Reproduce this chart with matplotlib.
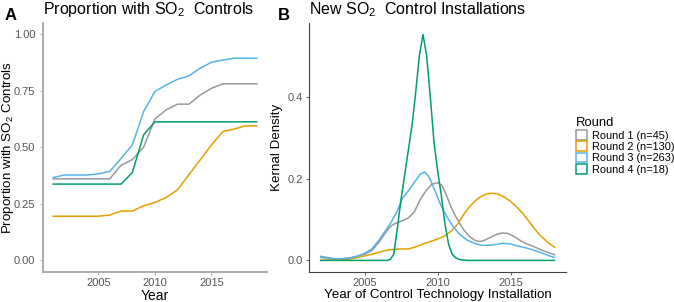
import matplotlib
matplotlib.use("Agg")
import matplotlib.pyplot as plt
from matplotlib.patches import Patch

plt.rcParams["font.family"] = ["Liberation Sans", "DejaVu Sans"]
plt.rcParams["mathtext.default"] = "regular"

# panel A: proportion of units with SO2 controls, by year
years = list(range(2001, 2020))
prop_r1 = [0.36, 0.36, 0.36, 0.36, 0.36, 0.36, 0.42, 0.445, 0.50, 0.625,
           0.665, 0.69, 0.69, 0.73, 0.76, 0.78, 0.78, 0.78, 0.78]
prop_r2 = [0.195, 0.195, 0.195, 0.195, 0.195, 0.20, 0.218, 0.218, 0.241, 0.256,
           0.278, 0.312, 0.378, 0.444, 0.51, 0.569, 0.58, 0.594, 0.594]
prop_r3 = [0.366, 0.377, 0.377, 0.377, 0.382, 0.393, 0.45, 0.51, 0.657, 0.746,
           0.775, 0.80, 0.815, 0.849, 0.875, 0.885, 0.893, 0.893, 0.893]
prop_r4 = [0.337, 0.337, 0.337, 0.337, 0.337, 0.337, 0.337, 0.388, 0.555, 0.612,
           0.612, 0.612, 0.612, 0.612, 0.612, 0.612, 0.612, 0.612, 0.612]

# panel B: kernel density of installation year
dens_r1_x = [2002, 2003, 2004, 2005, 2005.5, 2006, 2006.4, 2006.8, 2007.2, 2007.6,
             2008.0, 2008.4, 2008.8, 2009.2, 2009.6, 2010.0, 2010.3, 2010.6, 2010.9,
             2011.2, 2011.5, 2011.8, 2012.2, 2012.6, 2012.9, 2013.2, 2013.6, 2014.0,
             2014.4, 2014.8, 2015.2, 2015.6, 2016.0, 2016.5, 2017.0, 2017.5, 2018.0]
dens_r1_y = [0.007, 0.003, 0.006, 0.015, 0.024, 0.045, 0.066, 0.084, 0.092, 0.097,
             0.104, 0.118, 0.148, 0.170, 0.186, 0.190, 0.183, 0.160, 0.132,
             0.110, 0.091, 0.074, 0.058, 0.048, 0.046, 0.049, 0.056, 0.063,
             0.067, 0.066, 0.059, 0.050, 0.042, 0.035, 0.027, 0.020, 0.014]

dens_r2_x = [2002, 2003, 2004, 2004.5, 2005, 2005.5, 2006, 2006.5, 2007, 2007.5,
             2008, 2008.5, 2009, 2009.5, 2010, 2010.5, 2011, 2011.4, 2011.8, 2012.2,
             2012.6, 2013.0, 2013.4, 2013.8, 2014.2, 2014.6, 2015.0, 2015.4, 2015.8,
             2016.2, 2016.6, 2017.0, 2017.5, 2018.0]
dens_r2_y = [0.0, 0.001, 0.003, 0.007, 0.011, 0.015, 0.020, 0.025, 0.027, 0.028,
             0.028, 0.033, 0.040, 0.046, 0.052, 0.060, 0.074, 0.090, 0.113, 0.132,
             0.146, 0.157, 0.163, 0.164, 0.161, 0.154, 0.144, 0.131, 0.116,
             0.098, 0.079, 0.062, 0.045, 0.032]

dens_r3_x = [2002, 2002.5, 2003, 2003.5, 2004, 2004.5, 2005, 2005.5, 2006, 2006.4,
             2006.8, 2007.2, 2007.6, 2008.0, 2008.4, 2008.8, 2009.1, 2009.4, 2009.8,
             2010.1, 2010.4, 2010.8, 2011.1, 2011.5, 2012.0, 2012.5, 2013.0, 2013.5,
             2014.0, 2014.5, 2015.0, 2015.5, 2016.0, 2016.5, 2017.0, 2017.5, 2018.0]
dens_r3_y = [0.010, 0.007, 0.004, 0.004, 0.006, 0.010, 0.017, 0.028, 0.050, 0.071,
             0.092, 0.118, 0.152, 0.170, 0.190, 0.210, 0.216, 0.205, 0.172,
             0.145, 0.122, 0.097, 0.081, 0.064, 0.050, 0.042, 0.037, 0.037,
             0.039, 0.042, 0.040, 0.035, 0.031, 0.026, 0.020, 0.013, 0.007]

dens_r4_x = [2002, 2006.5, 2006.75, 2007.0, 2007.25, 2007.5, 2007.75, 2008.0, 2008.25,
             2008.5, 2008.75, 2009.0, 2009.25, 2009.5, 2009.75, 2010.0, 2010.25,
             2010.5, 2010.75, 2011.0, 2011.25, 2011.5, 2012.0, 2018.0]
dens_r4_y = [0.0, 0.0, 0.002, 0.015, 0.08, 0.15, 0.21, 0.27, 0.33,
             0.41, 0.50, 0.552, 0.50, 0.40, 0.29, 0.22, 0.16,
             0.09, 0.04, 0.015, 0.006, 0.002, 0.0, 0.0]

labels = ["Round 1 (n=45)", "Round 2 (n=130)", "Round 3 (n=263)", "Round 4 (n=18)"]
colors = ["#999999", "#E69F00", "#56B4E9", "#009E73"]

fig = plt.figure(figsize=(6.74, 3.02), dpi=100)
axA = fig.add_axes([0.0638, 0.1003, 0.3322, 0.8247])
axB = fig.add_axes([0.4585, 0.1003, 0.3815, 0.8237])

for ys, c in zip([prop_r1, prop_r2, prop_r3, prop_r4], colors):
    axA.plot(years, ys, color=c, lw=1.1)
axA.set_xlim(2000.1, 2019.9)
axA.set_ylim(-0.05, 1.05)
axA.set_xticks([2005, 2010, 2015])
axA.set_yticks([0, 0.25, 0.5, 0.75, 1.0])
axA.set_yticklabels(["0.00", "0.25", "0.50", "0.75", "1.00"])
axA.set_xlabel("Year", fontsize=10, labelpad=1)
axA.set_ylabel("Proportion with SO$_2$ Controls", fontsize=9.6)
axA.yaxis.set_label_coords(-0.122, 0.5)
axA.set_title("Proportion with SO$_2$  Controls", fontsize=11.5, loc="left", pad=6)

dens = [(dens_r1_x, dens_r1_y), (dens_r2_x, dens_r2_y),
        (dens_r3_x, dens_r3_y), (dens_r4_x, dens_r4_y)]
for (xs, ys), c in zip(dens, colors):
    axB.plot(xs, ys, color=c, lw=1.1)
axB.set_xlim(2001.2, 2018.8)
axB.set_ylim(-0.0276, 0.58)
axB.set_xticks([2005, 2010, 2015])
axB.set_yticks([0, 0.2, 0.4])
axB.set_yticklabels(["0.0", "0.2", "0.4"])
axB.set_xlabel("Year of Control Technology Installation", fontsize=9.6, labelpad=1)
axB.set_ylabel("Kernal Density", fontsize=9.6, labelpad=3)
axB.set_title("New SO$_2$  Control Installations", fontsize=11.5, loc="left", pad=6)

for ax, spc, slw in [(axA, "#a6a6a6", 1.3), (axB, "#444444", 0.8)]:
    ax.spines["top"].set_visible(False)
    ax.spines["right"].set_visible(False)
    for s in ["left", "bottom"]:
        ax.spines[s].set_color(spc)
        ax.spines[s].set_linewidth(slw)
    ax.tick_params(labelsize=8, colors="#555555", length=2.5, width=0.6, pad=2)
    ax.tick_params(axis="both", color=spc)
axA.tick_params(axis="y", pad=3)

fig.text(0.007, 0.925, "A", fontsize=12, fontweight="bold", va="bottom")
fig.text(0.412, 0.925, "B", fontsize=12, fontweight="bold", va="bottom")

handles = [Patch(facecolor="white", edgecolor=c, linewidth=1.1) for c in colors]
leg = fig.legend(handles, labels, title="Round", loc="upper left",
                 bbox_to_anchor=(0.855, 0.612), frameon=False, fontsize=7.9,
                 title_fontsize=9.4, handlelength=0.95, handleheight=0.95,
                 handletextpad=0.45, labelspacing=0.08, borderpad=0.0,
                 borderaxespad=0.0)
leg._legend_box.align = "left"

fig.savefig("out.png", dpi=100)
